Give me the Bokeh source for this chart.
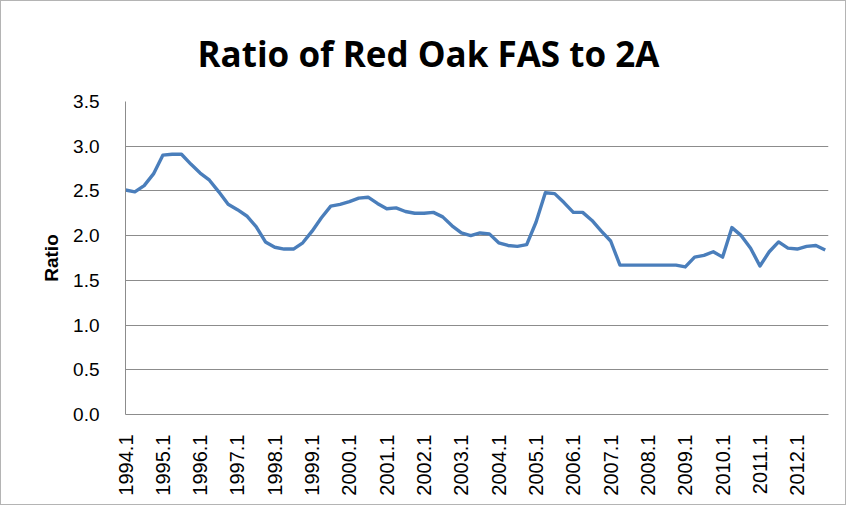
from bokeh.plotting import figure
from bokeh.models import Range1d, FixedTicker, NumeralTickFormatter
from bokeh.embed import file_html
from bokeh.resources import INLINE
import math

years = list(range(1994, 2013))
quarters = [1, 2, 3, 4]
period_labels = [f"{y}.{q}" for y in years for q in quarters]

ratio = [
    2.51, 2.49, 2.56, 2.69, 2.90, 2.91, 2.91, 2.80, 2.70, 2.62,
    2.49, 2.35, 2.29, 2.22, 2.10, 1.93, 1.87, 1.85, 1.85, 1.92,
    2.05, 2.20, 2.33, 2.35, 2.38, 2.42, 2.43, 2.36, 2.30, 2.31,
    2.27, 2.25, 2.25, 2.26, 2.21, 2.11, 2.03, 2.00, 2.03, 2.02,
    1.92, 1.89, 1.88, 1.90, 2.15, 2.48, 2.47, 2.37, 2.26, 2.26,
    2.17, 2.05, 1.94, 1.67, 1.67, 1.67, 1.67, 1.67, 1.67, 1.67,
    1.65, 1.76, 1.78, 1.82, 1.76, 2.09, 2.00, 1.86, 1.66, 1.82,
    1.93, 1.86, 1.85, 1.88, 1.89, 1.84,
]
x_idx = list(range(len(ratio)))

y_ticks = [0.0, 0.5, 1.0, 1.5, 2.0, 2.5, 3.0, 3.5]
x_tick_idx = [i for i, lab in enumerate(period_labels) if lab.endswith(".1")]

p = figure(
    width=846, height=505,
    output_backend="svg", toolbar_location=None,
    x_range=Range1d(0, 75.35), y_range=Range1d(0, 3.5),
    min_border_left=124, min_border_right=19,
    min_border_top=100, min_border_bottom=92,
    title="Ratio of Red Oak FAS to 2A",
)
p.styles = {"border": "1px solid #b4b4b4"}

p.title.text_font = "Open Sans"
p.title.text_font_size = "35px"
p.title.text_font_style = "bold"
p.title.text_color = "#000000"
p.title.align = "left"
p.title.offset = 72
p.title.standoff = 50

p.line(x_idx, ratio, line_color="#4a7ebb", line_width=3.4, line_join="round")

p.outline_line_color = None
p.background_fill_color = "white"
p.border_fill_color = "white"

# y axis
p.yaxis.ticker = FixedTicker(ticks=y_ticks)
p.yaxis.formatter = NumeralTickFormatter(format="0.0")
p.yaxis.major_tick_line_color = None
p.yaxis.minor_tick_line_color = None
p.yaxis.axis_line_color = "#8c8c8c"
p.yaxis.major_label_text_font = "Liberation Sans"
p.yaxis.major_label_text_font_size = "19px"
p.yaxis.major_label_text_color = "#000000"
p.yaxis.major_label_standoff = 20
p.yaxis.axis_label = "Ratio"
p.yaxis.axis_label_text_font = "Liberation Sans"
p.yaxis.axis_label_text_font_size = "19px"
p.yaxis.axis_label_text_font_style = "bold"
p.yaxis.axis_label_text_color = "#000000"
p.yaxis.axis_label_standoff = 8

# x axis
p.xaxis.ticker = FixedTicker(ticks=x_tick_idx)
p.xaxis.major_label_overrides = {i: period_labels[i] for i in x_tick_idx}
p.xaxis.major_label_orientation = math.pi / 2
p.xaxis.major_tick_line_color = None
p.xaxis.minor_tick_line_color = None
p.xaxis.axis_line_color = "#8c8c8c"
p.xaxis.major_label_text_font = "Liberation Sans"
p.xaxis.major_label_text_font_size = "20px"
p.xaxis.major_label_text_color = "#000000"
p.xaxis.major_label_standoff = 14

p.xgrid.grid_line_color = None
p.ygrid.grid_line_color = "#8c8c8c"
p.ygrid.grid_line_width = 1

open("out.html", "w").write(file_html(p, INLINE))
